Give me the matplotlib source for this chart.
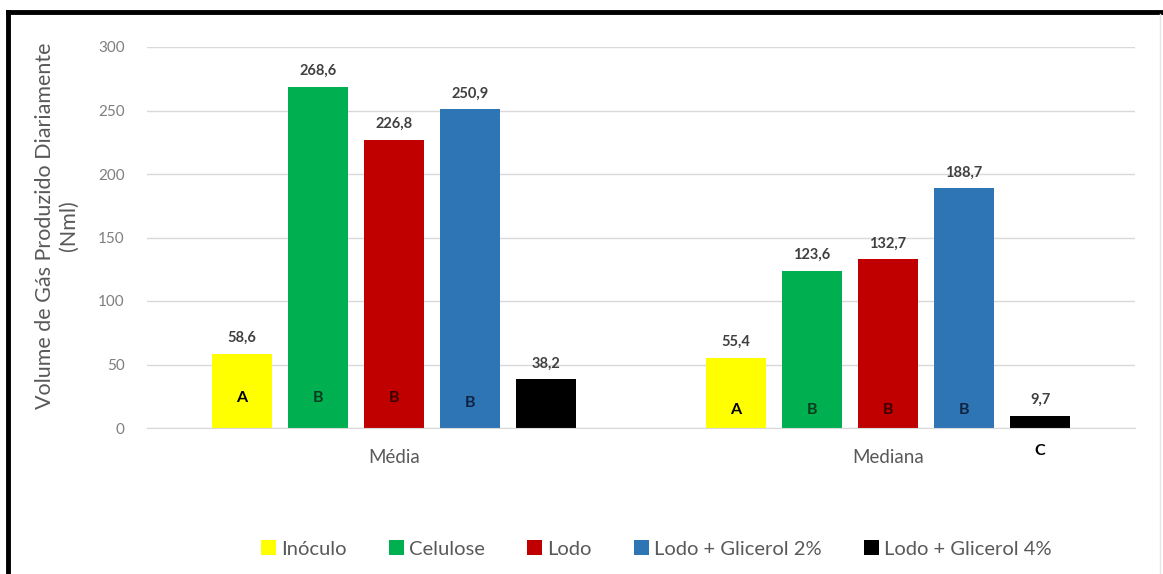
import matplotlib.pyplot as plt
from matplotlib.lines import Line2D
from matplotlib.patches import Patch
import numpy as np

plt.rcParams['font.family'] = ['Lato', 'DejaVu Sans']

# Values per treatment, for mean and median
groups = ['Média', 'Mediana']
series = ['Inóculo', 'Celulose', 'Lodo', 'Lodo + Glicerol 2%', 'Lodo + Glicerol 4%']
colors = ['#ffff00', '#00b050', '#c00000', '#2e75b6', '#000000']
letter_colors = ['#000000', '#0d3b1c', '#3a0000', '#0f2240', '#000000']
media = [58.6, 268.6, 226.8, 250.9, 38.2]
mediana = [55.4, 123.6, 132.7, 188.7, 9.7]
letras_media = ['A', 'B', 'B', 'B', 'C']
letras_mediana = ['A', 'B', 'B', 'B', 'C']
yticks = [0, 50, 100, 150, 200, 250, 300]

gray = '#595959'
fig = plt.figure(figsize=(11.63, 5.74), dpi=100)
ax = fig.add_axes([147/1163, 1-428/574, 988/1163, 381/574])

x = np.arange(len(groups))
step = 0.154
width = 0.121
for i, (name, col) in enumerate(zip(series, colors)):
    vals = [media[i], mediana[i]]
    xs = x + (i - 2)*step
    ax.bar(xs, vals, width, color=col, label=name, zorder=3)
    for xx, v in zip(xs, vals):
        ax.text(xx, v + 7, f'{v:.1f}'.replace('.', ','), ha='center', va='bottom',
                fontsize=10.5, fontweight='bold', color='#404040')
    # letters from the statistical test
    ax.text(xs[0], 24 if i != 3 else 20, letras_media[i], ha='center', va='center',
            fontsize=11.5, fontweight='bold', color=letter_colors[i], zorder=4)
    ym = 14 if i < 4 else -18
    ax.text(xs[1], ym, letras_mediana[i], ha='center', va='center',
            fontsize=11.5, fontweight='bold', color=letter_colors[i], zorder=4)

ax.set_xlim(-0.5, 1.5)
ax.set_ylim(0, 300)
ax.set_yticks(yticks)
ax.set_yticklabels([str(t) for t in yticks], color='#7f7f7f', fontsize=11)
ax.set_xticks(x)
ax.set_xticklabels(groups, color=gray, fontsize=13.5)
ax.tick_params(axis='both', length=0)
ax.tick_params(axis='x', pad=15)
ax.tick_params(axis='y', pad=16)
ax.grid(axis='y', color='#d9d9d9', linewidth=1, zorder=0)
for s in ['top', 'right', 'left']:
    ax.spines[s].set_visible(False)
ax.spines['bottom'].set_color('#d9d9d9')
ax.spines['bottom'].set_zorder(4)

fig.text(57/1163, 1-226/574, 'Volume de Gás Produzido Diariamente\n(Nml)', rotation=90,
         ha='center', va='center', fontsize=15.5, color=gray, linespacing=1.25)

handles = [Patch(facecolor=c) for c in colors]
fig.legend(handles, series, loc='center', bbox_to_anchor=(656/1163, 1-549/574), ncol=5,
           frameon=False, fontsize=14.5, handlelength=0.75, handleheight=0.75,
           handletextpad=0.25, columnspacing=2.1, labelcolor=gray)

# outer frame
fig.add_artist(Line2D([8/1163, 1], [1-12/574, 1-12/574], color='black', linewidth=3.5))
fig.add_artist(Line2D([8/1163, 8/1163], [0, 1-12/574], color='black', linewidth=3.5))
fig.add_artist(Line2D([1160/1163, 1160/1163], [0, 1-14/574], color='#e6e6e6', linewidth=1))

fig.savefig('out.png', dpi=100)
